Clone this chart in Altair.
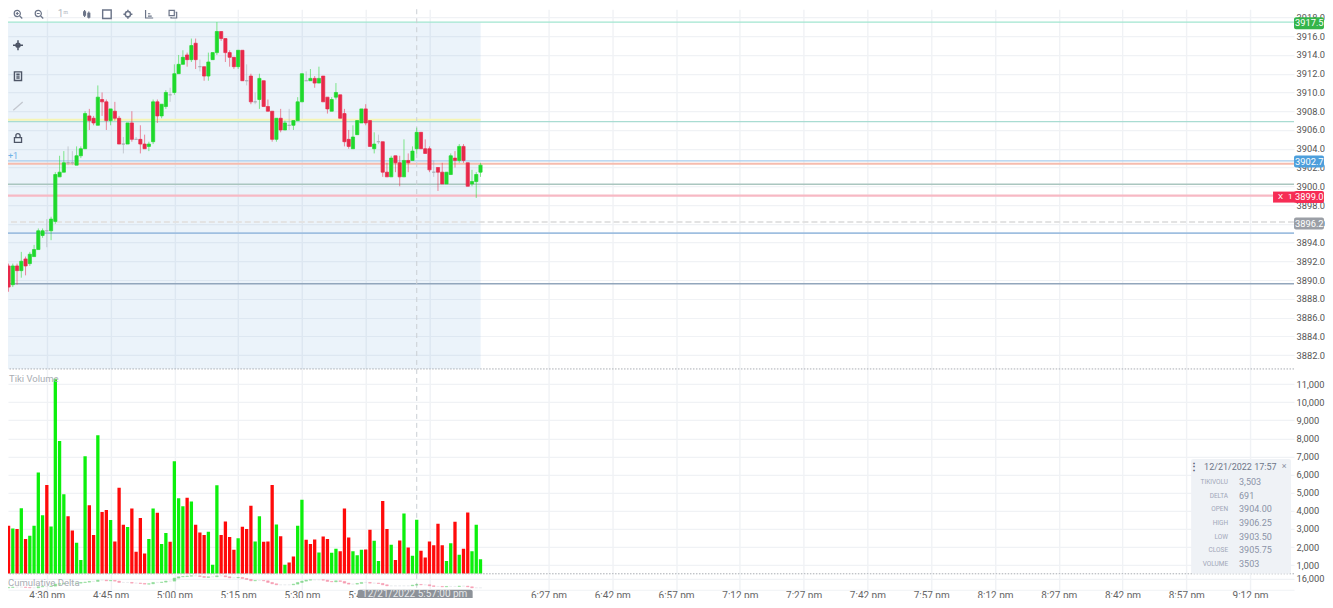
import altair as alt
import pandas as pd

opens = [3890.25,3891.5,3889.5,3891.5,3891,3892.25,3891.75,3892.5,3893.25,3894.75,
3895.25,3895.25,3896.25,3901,3901.5,3902.5,3902.5,3902.25,3903.25,3904,
3907.5,3907.25,3906.5,3909.25,3909,3907,3908,3907.25,3904.5,3904.5,
3906.75,3905,3905,3904.5,3904.25,3904.75,3909,3907.5,3908.5,3909.75,
3910,3912,3913,3914,3913.5,3915.25,3912.75,3912.75,3911.75,3913.5,
3914.25,3916.5,3915.75,3914.25,3913.75,3912.75,3914.5,3911.25,3911.75,3909,
3909.25,3911.25,3908.5,3908,3905,3907.25,3906,3906.5,3906.5,3907,
3909,3911.25,3911.25,3911.5,3911,3911.75,3909.5,3908,3909.5,3909.75,
3907.75,3905,3904,3905.5,3906.75,3908.25,3907,3904,3904.75,3904.75,
3901.5,3901,3903.25,3902.5,3901,3902.75,3902.75,3904,3905.75,3904,
3904,3901.5,3902,3901.5,3900.25,3901.25,3903,3902.75,3904.25,3902.5,
3900.25,3900.5,3901.5]
closes = [3891.25,3889.25,3891.5,3891,3892,3891.5,3892.75,3893.25,3895.25,3895.25,
3895.25,3896.5,3901.25,3901.5,3902.5,3902.5,3902.5,3903.25,3904,3907.75,
3907,3906.75,3909.5,3909,3907,3908.25,3907.25,3904.5,3904.5,3906.75,
3905,3905,3904.5,3904,3904.5,3909,3907.5,3908.75,3910,3909.75,
3912,3913,3913.75,3913.5,3915,3913.5,3912.75,3911.75,3913.25,3914.25,
3916.5,3915.75,3914.25,3913.75,3912.75,3914.5,3911.25,3911.25,3909,3909,
3911.5,3908.5,3908,3905,3907.25,3906,3906.75,3906.5,3907,3909,
3912,3911.25,3911.5,3911,3911.5,3909,3908.25,3909.25,3910,3907.25,
3904.75,3904.25,3905.25,3907,3908.25,3906.75,3904.25,3904.5,3904.75,3901.5,
3901,3903,3902.5,3901,3902.75,3902.5,3903.75,3905.75,3904,3903.5,
3901.75,3901.5,3901.5,3900.25,3901.5,3903.25,3902.75,3904.25,3902.75,3900,
3900.5,3901.25,3902.25]
highs = [3892.75,3891.75,3891.75,3891.75,3893,3892.5,3893,3893.75,3895.5,3895.5,
3896.5,3896.75,3901.5,3903.25,3903.75,3904.25,3903.75,3904.25,3904.25,3908,
3908.25,3907.5,3910.75,3910,3909.25,3908.25,3909,3907.5,3905.25,3906.75,
3908,3905.25,3906.5,3905.5,3904.75,3909.25,3909.25,3908.75,3910.25,3910.5,
3913,3914,3914.5,3914.25,3915.75,3915.75,3913.5,3912.75,3914.25,3914.25,
3917.5,3916.5,3915.75,3914.5,3913.75,3914.5,3914.5,3913,3912,3910,
3912,3911.25,3909.25,3908,3907.25,3908.25,3907,3908.25,3907,3909.5,
3912,3912.25,3912.5,3911.75,3912.75,3911.75,3909.5,3909.5,3911,3909.75,
3908.25,3906,3906.5,3907,3908.25,3908.75,3907,3905.75,3905.5,3904.75,
3902.5,3903.25,3903.25,3903.25,3905,3903.5,3904.25,3906.25,3905.75,3905,
3904.25,3902.75,3902,3902.5,3901.5,3903.5,3903.75,3904.5,3904.5,3902.5,
3901.75,3901.5,3902.5]
lows = [3888.75,3888.75,3889.25,3889.5,3890.25,3890.5,3891.5,3892.5,3893.25,3894.5,
3893.5,3894.25,3896,3901,3901.5,3902.25,3902.25,3902.25,3903,3904,
3906,3906.5,3906.5,3907.5,3906,3906.5,3907,3904.5,3903.5,3904.5,
3904.75,3905,3903.5,3904,3903.75,3904.5,3906.75,3907.25,3908.25,3909,
3909.75,3912,3913,3912.75,3913.25,3912.5,3912.25,3911.25,3911.25,3913.5,
3914,3915.5,3913.25,3912.75,3912.5,3912.5,3911.25,3910.75,3908.75,3908.75,
3908.25,3908.5,3908,3904.75,3904.75,3905.75,3906,3906,3906,3907,
3909,3911.25,3911.25,3910.5,3911,3909,3907.75,3908,3909.25,3907.25,
3904.25,3904,3904,3905.5,3906.75,3906.5,3904.25,3903.5,3904.5,3901,
3901,3901,3901.5,3900,3901,3901.5,3902.75,3903.5,3904,3903.5,
3901.5,3901,3899.5,3900.25,3900.25,3901.25,3902,3902.5,3902.5,3900,
3900,3898.75,3901]
volumes = [6890,3170,3020,2990,4150,2440,2620,3170,6120,3760,
5430,3130,11300,7860,4920,3700,2910,2230,1280,7020,
4310,2670,8180,3930,4040,3500,2310,5270,3230,3100,
4130,1740,3610,1640,2450,4130,3890,2160,2770,2290,
6740,4700,4260,4720,4510,3230,2800,2670,2840,1020,
5420,2670,3410,2560,1850,2490,3120,2990,4280,2310,
3700,2290,2310,5430,3240,2600,1020,1150,1480,3170,
4620,2400,2160,2420,1700,2580,2440,1680,1900,1770,
4130,2530,1770,1550,1850,1860,2950,2340,1220,4550,
2990,2120,1280,2360,3850,1980,1520,3503,1790,1420,
2310,2100,3280,2100,1220,2210,3390,1570,1900,3910,
1770,3230,1330]
vol_dir = "grgrgrgggg" "rggggrrggg" "rrgrrgrrrg" "rrrrggrggr" "gggrgrrrgg" "grrrrgrrrg" "grrrgrgrrg" "grrrgrrggr" "rrgggrrggr" "rgrrgrggrr" "rrrrggrgrr" "ggg"
delta_close = [12720,12840,12950,12950,12950,12840,12720,12720,13070,13180,
13180,13300,13990,14100,14220,14220,14220,14330,14560,14680,
14910,14910,15370,15370,15140,15250,15020,14560,14560,14560,
14330,14330,14220,13990,14100,14560,14560,14680,15020,15020,
16060,16520,16630,16750,16860,16860,16630,16290,16520,16520,
16860,16860,16520,16170,16170,16290,15940,15600,15140,15250,
15250,15140,14560,14100,13760,13760,13760,13760,13990,14560,
15020,15370,15480,15480,15480,15370,14910,14790,15140,14910,
14330,13990,13990,14220,14560,14560,14330,14330,14220,13760,
13410,13410,13410,13410,13410,13410,13640,13870,13760,13760,
13410,13180,13180,13070,13180,13180,13180,13300,13300,13070,
12720,12720,12720]
grid_bars = [10,25,40,55,70,85,100,128,143,158,173,188,203,218,233,248,263,278,293]
grid_labels = ["4:30 pm","4:45 pm","5:00 pm","5:15 pm","5:30 pm","5:45 pm","6:00 pm","6:27 pm","6:42 pm","6:57 pm","7:12 pm","7:27 pm","7:42 pm","7:57 pm","8:12 pm","8:27 pm","8:42 pm","8:57 pm","9:12 pm"]
price_ticks = list(range(3882, 3920, 2))
vol_ticks = list(range(1000, 12000, 1000))
delta_ticks = [16000]
level_prices = [3917.5, 3906.9, 3902.7, 3902.4, 3900.2, 3899.0, 3896.2, 3895.0, 3889.6]
level_colors = ["#a2e6d0", "#a9dcd2", "#a8cdec", "#f6bcae", "#aac6bf", "#f7b9c4", "#e3e3e3", "#9fbfe0", "#92a6bc"]
level_widths = [1.2, 1.2, 1.2, 2, 1.5, 2.2, 2, 1.6, 1.6]
info_keys = ["TIKIVOLU", "DELTA", "OPEN", "HIGH", "LOW", "CLOSE", "VOLUME"]
info_vals = ["3,503", "691", "3904.00", "3906.25", "3903.50", "3905.75", "3503"]

FONT = "Roboto"
X0, PT, VT, DT, DB, RIGHT = 8, 8, 368, 573, 589, 1295
PX_BAR, BAR0 = 4.255, 4.3
xscale = alt.Scale(domain=[(X0 - BAR0) / PX_BAR, (RIGHT - BAR0) / PX_BAR], range=[0, RIGHT - X0], nice=False, zero=False, padding=0)
P_PER = 9.385
pscale = alt.Scale(domain=[3916 - (VT - 35) / P_PER, 3916 + (35 - PT) / P_PER], nice=False, zero=False, padding=0)
V_PER = 0.0181
vscale = alt.Scale(domain=[1000 - (DT - 564.3) / V_PER, 1000 + (564.3 - VT) / V_PER], nice=False, zero=False, padding=0)
D_PER = 0.0029
dscale = alt.Scale(domain=[16000 - (DB - 577.5) / D_PER, 16000 + (577.5 - DT) / D_PER], nice=False, zero=False, padding=0)
V_BASE = vscale.domain[0]

GRID = "#f0f2f5"
def xaxis(labels=False):
    expr = "{" + ",".join(f"'{b}':'{l}'" for b, l in zip(grid_bars, grid_labels)) + "}[datum.value]"
    kw = dict(values=grid_bars, tickCount=len(grid_bars), title=None, grid=True, gridColor=GRID, gridWidth=1.4, ticks=False, domain=False, labels=labels)
    if labels:
        kw.update(labelExpr=expr, labelFont=FONT, labelFontSize=10, labelColor="#666", labelPadding=1, labelOverlap=False, labelBaseline="top", domain=True, domainColor=GRID)
    return alt.Axis(**kw)

def yaxis(vals, fmt):
    return alt.Axis(values=vals, tickCount=len(vals), format=fmt, orient="right", title=None, grid=True, gridColor=GRID, gridWidth=1.2,
                    ticks=False, domain=False, labelFont=FONT, labelFontSize=9.3, labelColor="#555", labelPadding=2, labelOverlap=False)

one = alt.Data(values=[{"a": 1}])
def rect(x1, x2, y1, y2, top, **kw):
    return alt.Chart(one).mark_rect(**kw).encode(x=alt.value(x1 - X0), x2=alt.value(x2 - X0), y=alt.value(y1 - top), y2=alt.value(y2 - top))
def txt(x, y, s, top, **kw):
    kw.setdefault("font", FONT)
    return alt.Chart(one).mark_text(text=s, **kw).encode(x=alt.value(x - X0), y=alt.value(y - top))
def icon(x, y, path, size=100, color="#6b7488", width=1.2):
    return alt.Chart(one).mark_point(shape=path, size=size, stroke=color, strokeWidth=width, filled=False, opacity=1).encode(x=alt.value(x - X0), y=alt.value(y - PT))

candles = pd.DataFrame({"i": range(len(opens)), "o": opens, "h": highs, "l": lows, "c": closes, "v": volumes,
                        "vd": list(vol_dir), "dc": delta_close})
candles["d"] = ["n" if o == c else ("g" if c > o else "r") for o, c in zip(opens, closes)]
candles["base"] = V_BASE
candles["dp"] = [delta_close[0]] + delta_close[:-1]
candles["dd"] = ["n" if a == b else ("g" if b > a else "r") for a, b in zip(candles["dp"], candles["dc"])]

ccol = alt.Color("d:N", legend=None, scale=alt.Scale(domain=["g", "r", "n"], range=["#1fd92c", "#e8294a", "#a5a9b0"]))
X = alt.X("i:Q", scale=xscale, axis=xaxis())
cross = pd.DataFrame({"i": [97]})
band = pd.DataFrame({"i": [xscale.domain[0]], "i2": [112.03], "y": [3917.5], "y2": [pscale.domain[0]]})

# ---------- price panel
p_layers = [
    alt.Chart(band).mark_rect(color="#3a8bd0", opacity=0.10).encode(
        x=X, x2="i2:Q", y=alt.Y("y:Q", scale=pscale, axis=yaxis(price_ticks, ".1f")), y2="y2:Q"),
    alt.Chart(pd.DataFrame({"i": [xscale.domain[0]], "i2": [112.03], "y": [3907.1]})).mark_rule(color="#f6f5b4", strokeWidth=2).encode(
        x=alt.X("i:Q", scale=xscale), x2="i2:Q", y=alt.Y("y:Q", scale=pscale)),
]
for p, col, w in zip(level_prices, level_colors, level_widths):
    mk = dict(color=col, strokeWidth=w)
    if p == 3896.2:
        mk["strokeDash"] = [6, 3]
    p_layers.append(alt.Chart(pd.DataFrame({"y": [p]})).mark_rule(**mk).encode(y=alt.Y("y:Q", scale=pscale)))
p_layers += [
    alt.Chart(cross).mark_rule(color="#c9ced4", strokeDash=[5, 4], strokeWidth=1).encode(x=alt.X("i:Q", scale=xscale)),
    alt.Chart(candles).mark_rule(strokeWidth=1, opacity=0.55, clip=True).encode(
        x=alt.X("i:Q", scale=xscale), y=alt.Y("h:Q", scale=pscale), y2="l:Q", color=ccol),
    alt.Chart(candles).mark_bar(size=3.2, orient="vertical", strokeWidth=0.7, clip=True).encode(
        x=alt.X("i:Q", scale=xscale), y=alt.Y("o:Q", scale=pscale), y2="c:Q", color=ccol, stroke=alt.Stroke("d:N", legend=None, scale=alt.Scale(domain=["g", "r", "n"], range=["#1fd92c", "#e8294a", "#a5a9b0"]))),
]
# price badges
for p_y, col, s in [(22, "#35b54a", "3917.5"), (160.5, "#4d9fdc", "3902.7"), (196, "#f62d55", "3899.0"), (222.5, "#9b9fa6", "3896.2")]:
    p_layers.append(rect(1295, 1325, p_y - 6, p_y + 6, PT, color=col, cornerRadius=2))
    p_layers.append(txt(1296, p_y, s, PT, color="white", fontSize=9.3, align="left", baseline="middle"))
p_layers.append(rect(1274, 1296, 190.5, 201.5, PT, color="#f62d55"))
p_layers.append(txt(1279, 196, "X", PT, color="white", fontSize=8, align="left", baseline="middle"))
p_layers.append(txt(1289, 196, "1", PT, color="white", fontSize=8, align="left", baseline="middle"))
# toolbar
MAG = "M-0.8,-0.15A0.65,0.65,0,1,1,0.5,-0.15A0.65,0.65,0,1,1,-0.8,-0.15M0.32,0.32L0.9,0.9"
p_layers += [
    icon(18, 13, MAG + "M-0.45,-0.15H0.15M-0.15,-0.45V0.15", 90),
    icon(39, 13, MAG + "M-0.45,-0.15H0.15", 90),
    txt(63, 13, "1ᵐ", PT, color="#b4b9c3", fontSize=10, align="center", baseline="middle"),
    icon(87, 13, "M-0.5,-0.9V0.6M-0.7,-0.5H-0.3V0.2H-0.7ZM0.4,-0.6V0.9M0.2,-0.2H0.6V0.6H0.2Z", 90),
    icon(107, 13, "M-0.9,-0.9H0.9V0.9H-0.9Z", 90, width=1.4),
    icon(128, 13, "M0.55,0A0.55,0.55,0,1,1,-0.55,0A0.55,0.55,0,1,1,0.55,0M0,-0.95V-0.55M0,0.55V0.95M-0.95,0H-0.55M0.55,0H0.95", 90, width=1.5),
    icon(149, 13, "M-0.7,-0.9V0.8H0.9M-0.2,0.4H0.6M-0.2,-0.1H0.3", 90),
    icon(173, 13, "M-0.8,-0.8H0.3V0.3H-0.8ZM0.6,-0.4H0.8V0.8H-0.4V0.6", 90),
    icon(18, 44, "M0,-1V1M-1,0H1M0.4,0A0.4,0.4,0,1,1,-0.4,0A0.4,0.4,0,1,1,0.4,0", 100, color="#4d5566", width=1.5),
    icon(18, 75, "M-0.75,-0.9H0.75V0.9H-0.75ZM-0.35,-0.4H0.35M-0.35,0H0.35M-0.35,0.4H0.35", 90, color="#4d5566", width=1.4),
    icon(18, 105, "M-0.9,0.8L0.9,-0.8", 110, color="#c3c7cf", width=1.3),
    icon(18, 137, "M-0.75,-0.1H0.75V0.9H-0.75ZM-0.45,-0.1V-0.5A0.45,0.45,0,0,1,0.45,-0.5V-0.1", 90, color="#4d5566", width=1.3),
    txt(13, 155, "+1", PT, color="#6fb1e6", fontSize=9, align="center", baseline="middle"),
]
price = alt.layer(*p_layers).properties(width=RIGHT - X0, height=VT - PT)

# ---------- volume panel
v_layers = [
    alt.Chart(cross).mark_rule(color="#c9ced4", strokeDash=[5, 4]).encode(x=X, y=alt.value(0), y2=alt.value(DT - VT)),
    alt.Chart(candles).mark_bar(size=3.3, orient="vertical", clip=True).encode(
        x=alt.X("i:Q", scale=xscale, axis=xaxis()), y=alt.Y("v:Q", scale=vscale, axis=yaxis(vol_ticks, ",d")), y2="base:Q",
        color=alt.Color("vd:N", legend=None, scale=alt.Scale(domain=["g", "r"], range=["#0cf00c", "#ff0a0a"]))),
    alt.Chart(pd.DataFrame({"y": [vscale.domain[1]]})).mark_rule(color="#a9adb3", strokeDash=[1.5, 1.5], strokeWidth=1).encode(y=alt.Y("y:Q", scale=vscale)),
    alt.Chart(pd.DataFrame({"y": [V_BASE]})).mark_rule(color="#a9adb3", strokeDash=[1.5, 1.5], strokeWidth=1).encode(y=alt.Y("y:Q", scale=vscale)),
    txt(9, 378, "Tiki Volume", VT, color="#a9adb3", fontSize=9.5, align="left", baseline="middle"),
    rect(1192, 1292, 458, 573, VT, color="#eef1f5", cornerRadius=2, opacity=0.95),
    txt(1195, 466, "⋮", VT, color="#555d70", fontSize=10, align="center", baseline="middle", fontWeight="bold"),
    txt(1205, 466, "12/21/2022 17:57", VT, color="#6d7588", fontSize=9, align="left", baseline="middle"),
    txt(1285, 465.5, "×", VT, color="#8d94a5", fontSize=9, align="center", baseline="middle"),
]
for n, (k, val) in enumerate(zip(info_keys, info_vals)):
    yy = 481 + n * 13.7
    v_layers.append(txt(1229, yy, k, VT, color="#a0a7b8", fontSize=6.5, align="right", baseline="middle"))
    v_layers.append(txt(1240, yy, val, VT, color="#8b93a7", fontSize=9, align="left", baseline="middle"))
volume = alt.layer(*v_layers).properties(width=RIGHT - X0, height=DT - VT)

# ---------- delta panel
d_layers = [
    alt.Chart(cross).mark_rule(color="#c9ced4", strokeDash=[5, 4]).encode(x=alt.X("i:Q", scale=xscale, axis=xaxis(True)), y=alt.value(0), y2=alt.value(DB - DT)),
    alt.Chart(candles).mark_bar(size=2.6, orient="vertical", strokeWidth=0.5, opacity=0.6, clip=True).encode(
        x=alt.X("i:Q", scale=xscale), y=alt.Y("dp:Q", scale=dscale, axis=yaxis(delta_ticks, ",d")), y2="dc:Q",
        color=alt.Color("dd:N", legend=None, scale=alt.Scale(domain=["g", "r", "n"], range=["#3ac24a", "#f0557a", "#d4d7dc"])),
        stroke=alt.Stroke("dd:N", legend=None, scale=alt.Scale(domain=["g", "r", "n"], range=["#3ac24a", "#f0557a", "#d4d7dc"]))),
    txt(8, 582, "Cumulative Delta", DT, color="#a9adb3", fontSize=9.5, align="left", baseline="middle"),
    rect(358, 473, 589, 600, DT, color="#8d9299", cornerRadius=2),
    txt(415, 593.5, "12/21/2022 5:57:00 pm", DT, color="#e6e8ea", fontSize=10, align="center", baseline="middle"),
]
delta = alt.layer(*d_layers).properties(width=RIGHT - X0, height=DB - DT)

chart = alt.vconcat(price, volume, delta, spacing=0, bounds="flush").resolve_scale(
    x="independent", y="independent", color="independent", stroke="independent"
).properties(padding={"left": -2, "top": -2, "right": 0, "bottom": -3}, background="white").configure_view(stroke=None)
chart.save("out.html", embed_options={"renderer": "svg", "actions": False})
